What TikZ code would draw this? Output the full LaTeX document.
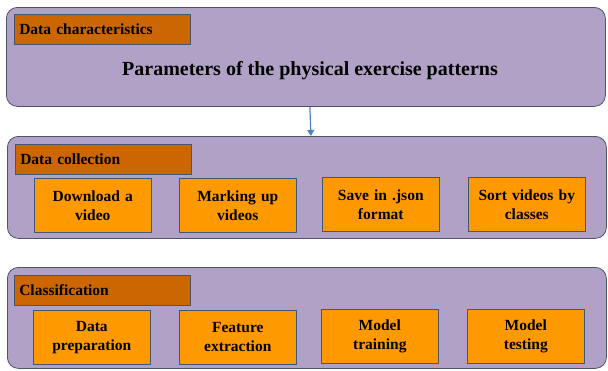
\documentclass[tikz,border=0pt]{standalone}
\usepackage{fontspec}
\setmainfont{Liberation Serif}
\usetikzlibrary{arrows.meta}

\definecolor{panelfill}{HTML}{B2A1C7}
\definecolor{panelline}{HTML}{4A5568}
\definecolor{tagfill}{HTML}{CC6600}
\definecolor{taskfill}{HTML}{FF9900}
\definecolor{boxline}{HTML}{3F5873}
\definecolor{arrowblue}{HTML}{4F81BD}

\begin{document}
\begin{tikzpicture}[x=1pt,y=-1pt,
  panel/.style={draw=panelline, fill=panelfill, rounded corners=11pt, line width=0.8pt,
    anchor=north west, inner sep=0pt, minimum width=599pt},
  tag/.style={draw=boxline, fill=tagfill, anchor=north west, line width=0.6pt,
    minimum width=176pt, minimum height=30pt, text width=166pt, align=left,
    font=\bfseries\fontsize{15.5}{18}\selectfont},
  task/.style={draw=boxline, fill=taskfill, line width=0.6pt, anchor=north west,
    minimum width=117pt, minimum height=54pt, text width=114pt, inner sep=1pt, align=center,
    font=\bfseries\fontsize{15.5}{19}\selectfont}]

\useasboundingbox (0,0) rectangle (608,370);

\node[panel, minimum height=99pt] (chars) at (6,7) {};
\node[panel, minimum height=102pt] (collect) at (7,136) {};
\node[panel, minimum height=101pt] (classif) at (7,267) {};

\node[tag] (tchars) at (14,14) {Data characteristics};
\node[tag] (tcollect) at (15,144) {Data collection};
\node[tag] (tclassif) at (14,275) {Classification};

\node[font=\bfseries\fontsize{20}{24}\selectfont] (params) at (310,71) {Parameters of the physical exercise patterns};

\node[task] (d1) at (34,178) {Download a\\video};
\node[task] (d2) at (179,178) {Marking up\\videos};
\node[task] (d3) at (322,177) {Save in .json\\format};
\node[task] (d4) at (468,177) {Sort videos by\\classes};

\node[task] (c1) at (33,310) {Data\\preparation};
\node[task] (c2) at (179,310) {Feature\\extraction};
\node[task] (c3) at (321,309) {Model\\training};
\node[task] (c4) at (467,309) {Model\\testing};

\draw[arrowblue, line width=1.2pt, -{Triangle[length=6pt,width=7pt]}]
  ([xshift=4pt]chars.south) -- ([xshift=4pt]collect.north);
\end{tikzpicture}
\end{document}
